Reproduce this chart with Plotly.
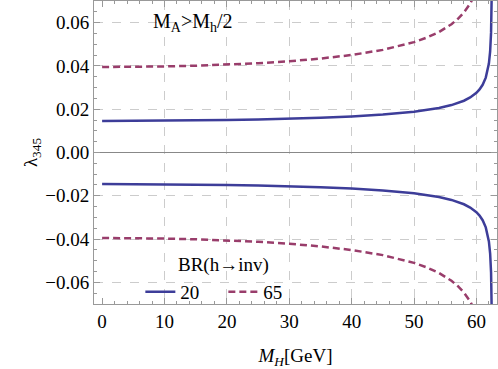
import plotly.graph_objects as go

# values (lambda_345 vs M_H), upper branch; lower branch is the mirror
mh = [0, 5, 10, 15, 20, 25, 30, 35, 40, 45, 50, 52, 54, 56, 57, 58, 59, 60,
      60.5, 61, 61.5, 62, 62.2, 62.35, 62.45, 62.49]
lam_br20 = [0.0146, 0.01462, 0.01469, 0.01482, 0.0150, 0.01525, 0.01559, 0.01604,
            0.01666, 0.01753, 0.01885, 0.0196, 0.02058, 0.02191, 0.0228, 0.02392,
            0.02542, 0.02759, 0.02914, 0.03129, 0.03459, 0.04109, 0.04667, 0.0555,
            0.0730, 0.1092]
mh_65 = [0, 5, 10, 15, 20, 25, 30, 35, 40, 45, 50, 52, 54, 56, 57, 58, 59, 60, 60.5]
lam_br65 = [0.0395, 0.03956, 0.03976, 0.04009, 0.04058, 0.04126, 0.04217, 0.0434,
            0.04506, 0.04742, 0.0510, 0.05303, 0.05567, 0.05927, 0.06167, 0.06471,
            0.06876, 0.07465, 0.0789]

blue = "rgb(61,61,153)"
purple = "rgb(153,61,107)"
serif = "Liberation Serif"
fs = 19

fig = go.Figure()

# BR = 20 %
fig.add_trace(go.Scatter(x=mh, y=lam_br20, mode="lines", name="20",
                         line=dict(color=blue, width=2.5)))
fig.add_trace(go.Scatter(x=mh, y=[-v for v in lam_br20], mode="lines", showlegend=False,
                         line=dict(color=blue, width=2.5)))
# BR = 65 %
fig.add_trace(go.Scatter(x=mh_65, y=lam_br65, mode="lines", name="65",
                         line=dict(color=purple, width=2.5, dash="7px,4px")))
fig.add_trace(go.Scatter(x=mh_65, y=[-v for v in lam_br65], mode="lines", showlegend=False,
                         line=dict(color=purple, width=2.5, dash="7px,4px")))

frame = dict(showline=True, linecolor="#999999", linewidth=1, mirror="allticks",
             ticks="inside", ticklen=6, tickcolor="#999999",
             showgrid=True, gridcolor="#cccccc", griddash="dash", gridwidth=1,
             tickfont=dict(family=serif, size=fs, color="black"))

fig.update_xaxes(range=[-1.3, 63.3], dtick=10, tick0=0,
                 zeroline=True, zerolinecolor="rgba(0,0,0,0)",
                 minor=dict(dtick=2, ticks="inside", ticklen=3, tickcolor="#999999",
                            showgrid=False),
                 title=dict(text="<i>M<sub>H</sub></i>[GeV]",
                            font=dict(family=serif, size=fs, color="black"), standoff=18),
                 **frame)
fig.update_yaxes(range=[-0.07, 0.07], dtick=0.02, tick0=0, tickformat=".2f",
                 zeroline=True, zerolinecolor="#888888", zerolinewidth=1,
                 minor=dict(dtick=0.005, ticks="inside", ticklen=3, tickcolor="#999999",
                            showgrid=False),
                 title=dict(text="λ<sub>345</sub>",
                            font=dict(family=serif, size=fs, color="black"), standoff=2),
                 **frame)

fig.add_annotation(text="M<sub>A</sub>&gt;M<sub>h</sub>/2", xref="paper", yref="paper",
                   x=0.245, y=0.93, xanchor="center", yanchor="middle", showarrow=False,
                   font=dict(family=serif, size=20, color="black"))
fig.add_annotation(text="BR(h→inv)", xref="paper", yref="paper",
                   x=0.204, y=0.128, xanchor="left", yanchor="middle", showarrow=False,
                   font=dict(family=serif, size=fs, color="black"))

fig.update_layout(
    width=498, height=369,
    margin=dict(l=94, r=1, t=1, b=65),
    plot_bgcolor="white", paper_bgcolor="white",
    legend=dict(orientation="h", x=0.115, y=0.04, xanchor="left", yanchor="middle",
                bgcolor="rgba(0,0,0,0)", font=dict(family=serif, size=fs, color="black"),
                itemwidth=30, entrywidth=38, tracegroupgap=0),
)

fig.write_html("out.html", config={"displayModeBar": False},
               post_script="document.body.style.margin='0';")
